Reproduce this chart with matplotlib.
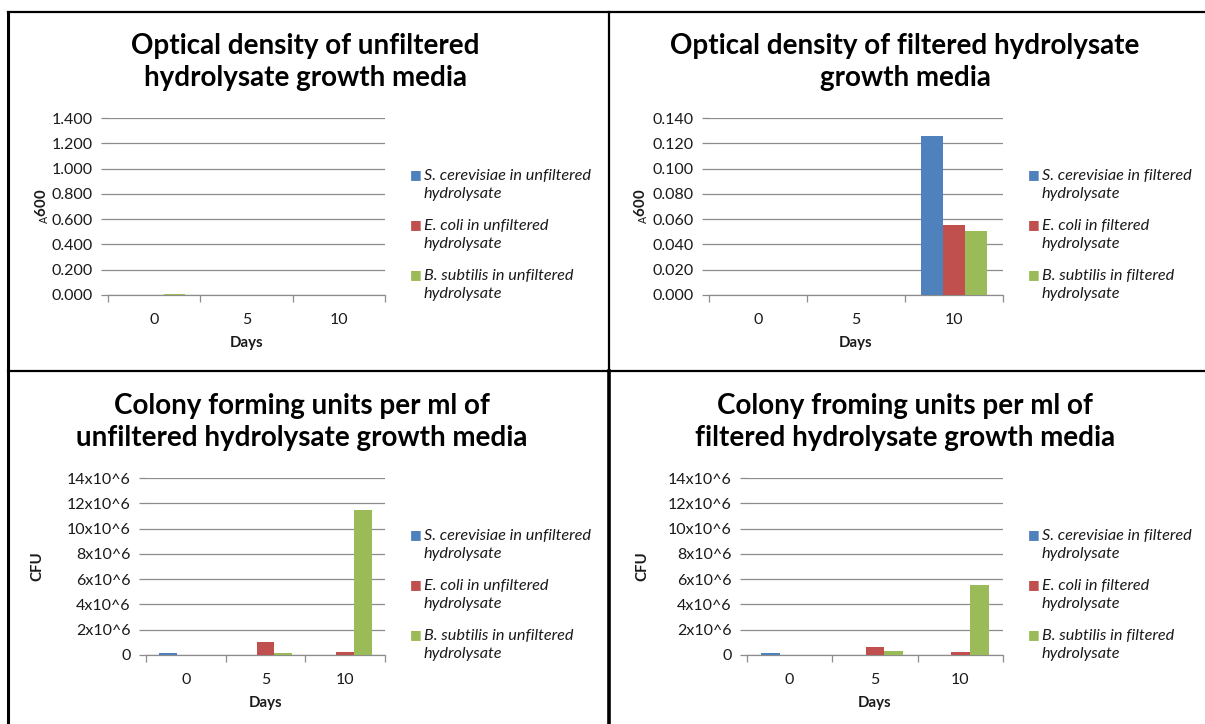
import matplotlib
matplotlib.use("Agg")
import matplotlib.pyplot as plt
from matplotlib.lines import Line2D
from matplotlib.ticker import FuncFormatter, MultipleLocator
import numpy as np

plt.rcParams['font.family'] = ['Lato', 'DejaVu Sans']

days = ['0', '5', '10']

od_unf_scer = [0.0, 0.0, 0.0]
od_unf_ecoli = [0.0, 0.0, 0.0]
od_unf_bsub = [0.005, 0.0, 0.0]

od_f_scer = [0.0, 0.0, 0.126]
od_f_ecoli = [0.0, 0.0, 0.055]
od_f_bsub = [0.0, 0.0, 0.051]

cfu_unf_scer = [0.16e6, 0.0, 0.0]
cfu_unf_ecoli = [0.0, 1.04e6, 0.21e6]
cfu_unf_bsub = [0.0, 0.15e6, 11.48e6]

cfu_f_scer = [0.16e6, 0.0, 0.0]
cfu_f_ecoli = [0.0, 0.66e6, 0.21e6]
cfu_f_bsub = [0.0, 0.34e6, 5.56e6]

titles = ["Optical density of unfiltered\nhydrolysate growth media",
          "Optical density of filtered hydrolysate\ngrowth media",
          "Colony forming units per ml of\nunfiltered hydrolysate growth media",
          "Colony froming units per ml of\nfiltered hydrolysate growth media"]

legend_unf = ["S. cerevisiae in unfiltered\nhydrolysate",
              "E. coli in unfiltered\nhydrolysate",
              "B. subtilis in unfiltered\nhydrolysate"]
legend_f = ["S. cerevisiae in filtered\nhydrolysate",
            "E. coli in filtered\nhydrolysate",
            "B. subtilis in filtered\nhydrolysate"]

colors = ['#4F81BD', '#C0504D', '#9BBB59']

W, H = 1205, 724
fig = plt.figure(figsize=(W / 100, H / 100), dpi=100)


def fx(px):
    return px / W


def fy(py):
    return 1 - py / H


def make_axes(x0, y0, x1, y1):
    return fig.add_axes([fx(x0), fy(y1), fx(x1 - x0), (y1 - y0) / H])


def od_fmt(v, p):
    return f"{v:.3f}"


def cfu_fmt(v, p):
    return "0" if abs(v) < 1 else f"{int(round(v / 1e6))}x10^6"


panels = [
    dict(box=(108, 118, 385, 295), data=[od_unf_scer, od_unf_ecoli, od_unf_bsub],
         ymax=1.4, step=0.2, fmt=od_fmt, ylabel='A600', ylab_x=42,
         title=titles[0], tcx=305, tcy=62, leg=legend_unf, legx=410, legy=175,
         days_y=343),
    dict(box=(709, 118, 1003, 295), data=[od_f_scer, od_f_ecoli, od_f_bsub],
         ymax=0.14, step=0.02, fmt=od_fmt, ylabel='A600', ylab_x=641,
         title=titles[1], tcx=905, tcy=62, leg=legend_f, legx=1028, legy=175,
         days_y=343),
    dict(box=(146, 478, 385, 655), data=[cfu_unf_scer, cfu_unf_ecoli, cfu_unf_bsub],
         ymax=14e6, step=2e6, fmt=cfu_fmt, ylabel='CFU', ylab_x=37,
         title=titles[2], tcx=302, tcy=422, leg=legend_unf, legx=410, legy=535,
         days_y=703),
    dict(box=(747, 478, 1003, 655), data=[cfu_f_scer, cfu_f_ecoli, cfu_f_bsub],
         ymax=14e6, step=2e6, fmt=cfu_fmt, ylabel='CFU', ylab_x=642,
         title=titles[3], tcx=905, tcy=422, leg=legend_f, legx=1028, legy=535,
         days_y=703),
]

grid_col = '#8C8C8C'
txt_col = '#1a1a1a'
bw = 1 / 4.5

for p in panels:
    x0, y0, x1, y1 = p['box']
    ax = make_axes(x0, y0, x1, y1)
    x = np.arange(len(days))
    for i, (vals, c) in enumerate(zip(p['data'], colors)):
        ax.bar(x + (i - 1) * bw, vals, width=bw, color=c, zorder=3, linewidth=0)
    ax.set_xlim(-0.5, len(days) - 0.5)
    ax.set_ylim(0, p['ymax'])
    ax.yaxis.set_major_locator(MultipleLocator(p['step']))
    ax.yaxis.set_major_formatter(FuncFormatter(p['fmt']))
    ax.grid(axis='y', color=grid_col, linewidth=0.9, zorder=0)
    for s in ['left', 'right', 'top']:
        ax.spines[s].set_visible(False)
    ax.spines['bottom'].set_color(grid_col)
    ax.spines['bottom'].set_linewidth(0.9)
    ax.set_xticks(x)
    ax.set_xticklabels(days)
    ax.set_xticks(np.arange(-0.5, len(days)), minor=True)
    ax.tick_params(axis='x', which='major', length=0, pad=13, labelsize=11.5,
                   labelcolor=txt_col)
    ax.tick_params(axis='x', which='minor', length=5, color=grid_col, width=0.9)
    ax.tick_params(axis='y', length=5, color=grid_col, width=0.9, labelsize=11.5,
                   labelcolor=txt_col, pad=6)
    # Days label
    fig.text(fx((x0 + x1) / 2), fy(p['days_y']), 'Days', ha='center', va='center',
             fontsize=10.8, fontweight='bold', color=txt_col)
    # y label
    ylab = r'$_{\mathrm{A}}$' + '600' if p['ylabel'] == 'A600' else p['ylabel']
    fig.text(fx(p['ylab_x']), fy((y0 + y1) / 2), ylab, rotation=90,
             ha='center', va='center', fontsize=10.8, fontweight='bold',
             color=txt_col)
    # title
    fig.text(fx(p['tcx']), fy(p['tcy']), p['title'], ha='center', va='center',
             fontsize=20, fontweight='bold', linespacing=1.3, color='black')
    # legend
    for k, (lab, c) in enumerate(zip(p['leg'], colors)):
        ly = p['legy'] + 50 * k
        fig.text(fx(p['legx']), fy(ly), '\u25A0', color=c, ha='left',
                 va='center', fontsize=9, family='DejaVu Sans')
        fig.text(fx(p['legx'] + 14), fy(ly + 10), lab, ha='left', va='center',
                 fontsize=11.7, style='italic', linespacing=1.42, color=txt_col)

# panel borders
border = dict(color='black', transform=fig.transFigure)
fig.add_artist(Line2D([fx(8), fx(8)], [fy(12), fy(724)], linewidth=2.2, **border))
fig.add_artist(Line2D([fx(8), fx(1205)], [fy(12), fy(12)], linewidth=1.6, **border))
fig.add_artist(Line2D([fx(609), fx(609)], [fy(12), fy(371)], linewidth=1.6, **border))
fig.add_artist(Line2D([fx(609), fx(609)], [fy(371), fy(724)], linewidth=2.6, **border))
fig.add_artist(Line2D([fx(8), fx(1205)], [fy(371), fy(371)], linewidth=1.6, **border))

fig.savefig('out.png', dpi=100, facecolor='white')
